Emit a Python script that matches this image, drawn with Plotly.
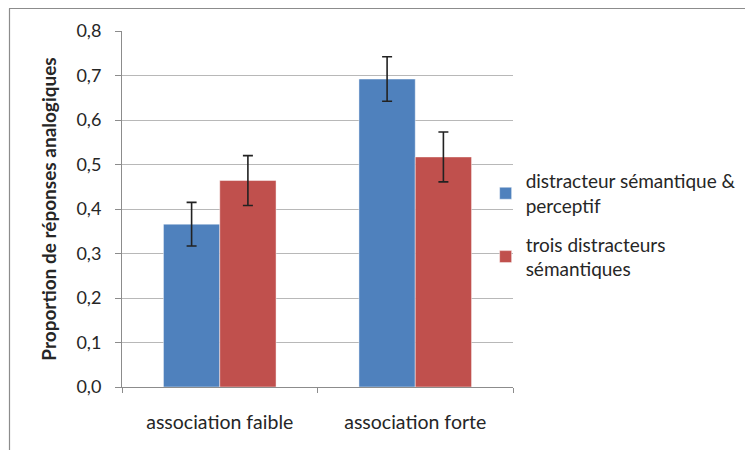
import plotly.graph_objects as go

categories = ["association faible", "association forte"]
series_names = ["distracteur sémantique &<br>perceptif", "trois distracteurs<br>sémantiques"]
values_semperc = [0.366, 0.692]
errors_semperc = [0.049, 0.050]
values_trois = [0.464, 0.517]
errors_trois = [0.056, 0.056]
colors = ["#4F81BD", "#C0504D"]
y_ticks = [0.0, 0.1, 0.2, 0.3, 0.4, 0.5, 0.6, 0.7, 0.8]
y_ticklabels = ["0,0", "0,1", "0,2", "0,3", "0,4", "0,5", "0,6", "0,7", "0,8"]

FONT = "Lato, 'Open Sans', sans-serif"

fig = go.Figure()
for i, (name, vals, errs, col) in enumerate([
    (series_names[0], values_semperc, errors_semperc, colors[0]),
    (series_names[1], values_trois, errors_trois, colors[1]),
]):
    fig.add_trace(go.Bar(
        x=categories, y=vals, name=name, legendgroup=f"g{i}",
        marker=dict(color=col, line=dict(color="rgba(255,255,255,0.45)", width=1)),
        error_y=dict(type="data", array=errs, visible=True, color="#222222",
                     thickness=1.6, width=5),
    ))

fig.update_layout(
    width=745, height=450,
    margin=dict(l=122, r=232, t=31, b=63, autoexpand=False),
    paper_bgcolor="white", plot_bgcolor="white",
    barmode="group", bargap=0.424, bargroupgap=0,
    font=dict(family=FONT, size=17, color="#262626"),
    showlegend=True,
    legend=dict(x=0.930, xanchor="left", y=0.455, yanchor="middle",
                font=dict(size=19, color="#262626"), tracegroupgap=11,
                bgcolor="rgba(0,0,0,0)"),
    xaxis=dict(showline=True, linecolor="#8c8c8c", linewidth=1, automargin=False,
               ticks="outside", tickson="boundaries", ticklen=5, tickcolor="#8c8c8c",
               showgrid=False, tickfont=dict(size=19.5), ticklabelstandoff=18),
    yaxis=dict(range=[0, 0.8], tickvals=y_ticks, ticktext=y_ticklabels, automargin=False,
               showline=True, linecolor="#8c8c8c", linewidth=1,
               ticks="outside", ticklen=6, tickcolor="#8c8c8c",
               showgrid=True, gridcolor="#b8b8b8", gridwidth=1,
               zeroline=False, tickfont=dict(size=18), ticklabelstandoff=10,
               title=dict(text="<b>Proportion de réponses analogiques</b>",
                          font=dict(size=19), standoff=14)),
    shapes=[
        dict(type="line", xref="paper", yref="paper",
             x0=-113/391, x1=1 + 232/391, y0=1 + 22.5/356, y1=1 + 22.5/356,
             line=dict(color="#8c8c8c", width=1.2)),
        dict(type="line", xref="paper", yref="paper",
             x0=-112.5/391, x1=-112.5/391, y0=1 + 22.5/356, y1=-63/356,
             line=dict(color="#8c8c8c", width=1.2)),
    ],
)

fig.write_html("out.html", config={"displayModeBar": False},
               post_script="document.body.style.margin='0';document.body.style.overflow='hidden';")
